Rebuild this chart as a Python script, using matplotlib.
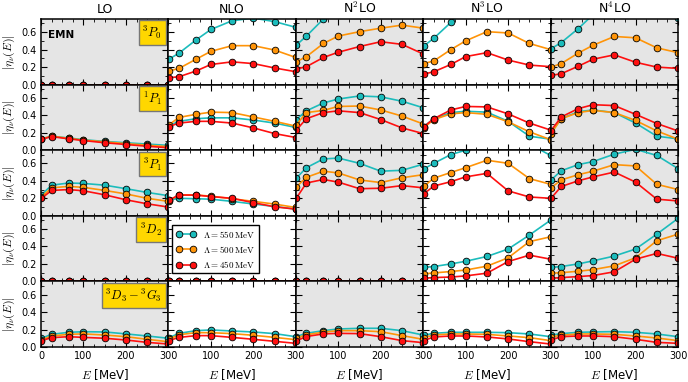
import numpy as np
import matplotlib
matplotlib.use('Agg')
import matplotlib.pyplot as plt
from matplotlib.ticker import MultipleLocator

plt.rcParams['mathtext.fontset'] = 'cm'
plt.rcParams['font.family'] = 'DejaVu Sans'

# lab energies [MeV]
energies = [1, 25, 65, 100, 150, 200, 250, 300]
orders = ['LO', 'NLO', r'N$^{\mathsf{2}}$LO', r'N$^{\mathsf{3}}$LO', r'N$^{\mathsf{4}}$LO']
channels = [r'$^3P_0$', r'$^1P_1$', r'$^3P_1$', r'$^3D_2$', r'$^3D_3-{}^3G_3$']
cutoffs = [550, 500, 450]
colors = ['#1cbcbc', '#ff9408', '#ff1010']
zero = [0, 0, 0, 0, 0, 0, 0, 0]

# |eta| per channel and cutoff, each a list over LO, NLO, N2LO, N3LO, N4LO
p0_550 = [zero,
          [0.29, 0.36, 0.51, 0.63, 0.73, 0.76, 0.72, 0.655],
          [0.45, 0.555, 0.75, 0.9, 1.0, 1.05, 1.05, 1.0],
          [0.44, 0.53, 0.71, 0.85, 0.95, 1.0, 1.0, 0.95],
          [0.41, 0.48, 0.64, 0.80, 0.95, 1.0, 0.9, 0.76]]
p0_500 = [zero,
          [0.155, 0.185, 0.29, 0.38, 0.445, 0.445, 0.395, 0.31],
          [0.26, 0.32, 0.47, 0.555, 0.605, 0.645, 0.68, 0.645],
          [0.24, 0.27, 0.40, 0.50, 0.605, 0.59, 0.47, 0.40],
          [0.20, 0.24, 0.36, 0.45, 0.55, 0.535, 0.42, 0.365]]
p0_450 = [zero,
          [0.078, 0.09, 0.155, 0.23, 0.26, 0.24, 0.19, 0.147],
          [0.178, 0.205, 0.31, 0.37, 0.435, 0.49, 0.46, 0.35],
          [0.12, 0.147, 0.23, 0.32, 0.365, 0.28, 0.223, 0.205],
          [0.105, 0.124, 0.21, 0.29, 0.34, 0.255, 0.20, 0.185]]

p1_550 = [[0.13, 0.16, 0.14, 0.12, 0.10, 0.085, 0.07, 0.055],
          [0.28, 0.33, 0.36, 0.37, 0.37, 0.345, 0.31, 0.26],
          [0.35, 0.45, 0.54, 0.585, 0.62, 0.61, 0.56, 0.485],
          [0.27, 0.36, 0.43, 0.445, 0.435, 0.33, 0.16, 0.126],
          [0.20, 0.36, 0.44, 0.46, 0.43, 0.31, 0.16, 0.13]]
p1_500 = [[0.13, 0.16, 0.135, 0.115, 0.095, 0.075, 0.057, 0.04],
          [0.29, 0.375, 0.41, 0.435, 0.43, 0.38, 0.33, 0.275],
          [0.29, 0.43, 0.455, 0.50, 0.505, 0.46, 0.39, 0.30],
          [0.255, 0.35, 0.415, 0.43, 0.41, 0.325, 0.21, 0.12],
          [0.19, 0.36, 0.43, 0.455, 0.43, 0.34, 0.22, 0.126]]
p1_450 = [[0.125, 0.155, 0.13, 0.11, 0.085, 0.065, 0.045, 0.028],
          [0.27, 0.31, 0.33, 0.33, 0.31, 0.255, 0.19, 0.145],
          [0.23, 0.36, 0.43, 0.45, 0.43, 0.35, 0.255, 0.19],
          [0.267, 0.36, 0.46, 0.50, 0.495, 0.415, 0.31, 0.23],
          [0.225, 0.38, 0.475, 0.52, 0.51, 0.41, 0.305, 0.22]]

p31_550 = [[0.24, 0.35, 0.375, 0.37, 0.35, 0.31, 0.267, 0.23],
           [0.18, 0.20, 0.195, 0.19, 0.165, 0.135, 0.107, 0.076],
           [0.43, 0.55, 0.65, 0.66, 0.60, 0.51, 0.52, 0.59],
           [0.535, 0.60, 0.70, 0.75, 0.82, 0.9, 0.82, 0.69],
           [0.41, 0.515, 0.585, 0.62, 0.705, 0.76, 0.69, 0.54]]
p31_500 = [[0.215, 0.32, 0.336, 0.325, 0.29, 0.25, 0.20, 0.165],
           [0.17, 0.24, 0.237, 0.225, 0.195, 0.165, 0.134, 0.095],
           [0.33, 0.44, 0.51, 0.49, 0.41, 0.38, 0.435, 0.47],
           [0.335, 0.43, 0.495, 0.55, 0.635, 0.60, 0.425, 0.36],
           [0.32, 0.41, 0.47, 0.51, 0.585, 0.57, 0.36, 0.30]]
p31_450 = [[0.20, 0.29, 0.30, 0.286, 0.24, 0.183, 0.137, 0.10],
           [0.18, 0.237, 0.237, 0.22, 0.20, 0.15, 0.103, 0.076],
           [0.20, 0.375, 0.415, 0.385, 0.31, 0.315, 0.345, 0.32],
           [0.25, 0.34, 0.39, 0.445, 0.485, 0.285, 0.215, 0.20],
           [0.20, 0.335, 0.40, 0.445, 0.50, 0.385, 0.19, 0.17]]

d2_550 = [zero, zero, zero,
          [0.16, 0.17, 0.20, 0.23, 0.285, 0.37, 0.53, 0.70],
          [0.16, 0.17, 0.20, 0.235, 0.29, 0.37, 0.54, 0.72]]
d2_500 = [zero, zero, zero,
          [0.086, 0.097, 0.113, 0.13, 0.174, 0.27, 0.455, 0.51],
          [0.093, 0.10, 0.116, 0.135, 0.178, 0.27, 0.465, 0.54]]
d2_450 = [zero, zero, zero,
          [0.036, 0.044, 0.05, 0.063, 0.094, 0.227, 0.30, 0.254],
          [0.036, 0.044, 0.055, 0.067, 0.11, 0.254, 0.32, 0.265]]

d3_550 = [[0.10, 0.145, 0.168, 0.175, 0.172, 0.15, 0.126, 0.10],
          [0.107, 0.156, 0.187, 0.195, 0.183, 0.172, 0.153, 0.118],
          [0.12, 0.157, 0.187, 0.206, 0.214, 0.214, 0.187, 0.137],
          [0.134, 0.157, 0.168, 0.168, 0.168, 0.164, 0.149, 0.118],
          [0.137, 0.153, 0.168, 0.172, 0.176, 0.168, 0.149, 0.118]]
d3_500 = [[0.08, 0.126, 0.145, 0.15, 0.137, 0.118, 0.088, 0.06],
          [0.088, 0.14, 0.164, 0.164, 0.153, 0.134, 0.11, 0.084],
          [0.10, 0.14, 0.17, 0.187, 0.187, 0.175, 0.13, 0.088],
          [0.107, 0.137, 0.149, 0.149, 0.145, 0.126, 0.107, 0.073],
          [0.115, 0.134, 0.149, 0.149, 0.145, 0.126, 0.103, 0.073]]
d3_450 = [[0.073, 0.107, 0.118, 0.11, 0.10, 0.08, 0.053, 0.034],
          [0.073, 0.11, 0.13, 0.13, 0.11, 0.088, 0.065, 0.042],
          [0.07, 0.12, 0.15, 0.156, 0.153, 0.118, 0.073, 0.05],
          [0.073, 0.115, 0.126, 0.126, 0.115, 0.092, 0.061, 0.034],
          [0.08, 0.118, 0.126, 0.126, 0.118, 0.088, 0.053, 0.042]]

rows = [[p0_550, p0_500, p0_450],
        [p1_550, p1_500, p1_450],
        [p31_550, p31_500, p31_450],
        [d2_550, d2_500, d2_450],
        [d3_550, d3_500, d3_450]]

fig, axes = plt.subplots(5, 5, figsize=(6.88, 3.82), dpi=100)
fig.subplots_adjust(left=0.0596, right=0.9855, top=0.9503, bottom=0.0916,
                    wspace=0, hspace=0)

for r in range(5):
    for c in range(5):
        ax = axes[r][c]
        if c % 2 == 0:
            ax.set_facecolor('#e5e5e5')
        for k in range(3):
            ax.plot(energies, rows[r][k][c], '-o', color=colors[k], lw=1.2,
                    ms=4.8, mec='k', mew=0.6,
                    label=r'$\Lambda = %d\,\mathrm{MeV}$' % cutoffs[k])
        ax.set_xlim(0, 300)
        ax.set_ylim(0, 0.75)
        ax.xaxis.set_major_locator(MultipleLocator(100))
        ax.xaxis.set_minor_locator(MultipleLocator(25))
        ax.yaxis.set_major_locator(MultipleLocator(0.2))
        ax.yaxis.set_minor_locator(MultipleLocator(0.1))
        ax.tick_params(which='both', direction='in', top=True, right=True,
                       labelsize=7, pad=3)
        ax.tick_params(which='major', length=4, width=0.8)
        ax.tick_params(which='minor', length=2, width=0.6)
        for s in ax.spines.values():
            s.set_linewidth(1.1)
        if r < 4:
            ax.tick_params(labelbottom=False)
        else:
            ax.set_xlabel('$E$ [MeV]', fontsize=8.5, labelpad=4)
            if c > 0:
                ax.set_xticks([0, 100, 200, 300])
                ax.set_xticklabels(['', '100', '200', '300'])
        if c > 0:
            ax.tick_params(labelleft=False)
        else:
            ax.set_ylabel(r'$|\eta_\nu(E)|$', fontsize=8.5, labelpad=3)
            ax.set_yticks([0, 0.2, 0.4, 0.6])
            ax.set_yticklabels(['0.0', '0.2', '0.4', '0.6'])
            ax.text(0.95, 0.92, channels[r], transform=ax.transAxes,
                    ha='right', va='top', fontsize=9,
                    bbox=dict(boxstyle='square,pad=0.3', fc='#ffd700',
                              ec='#777777', lw=1))
        if r == 0:
            ax.set_title(orders[c], fontsize=9, pad=4)

axes[0][0].text(0.055, 0.76, 'EMN', transform=axes[0][0].transAxes,
                fontsize=7.5, fontweight='bold', va='center')

leg = axes[3][1].legend(loc='upper left', bbox_to_anchor=(0.03, 0.86),
                        borderaxespad=0, fontsize=6.5, numpoints=2,
                        fancybox=False, framealpha=1, edgecolor='k',
                        handlelength=2.2, labelspacing=0.45)
leg.get_frame().set_linewidth(1.0)

fig.savefig('out.png', dpi=100)
